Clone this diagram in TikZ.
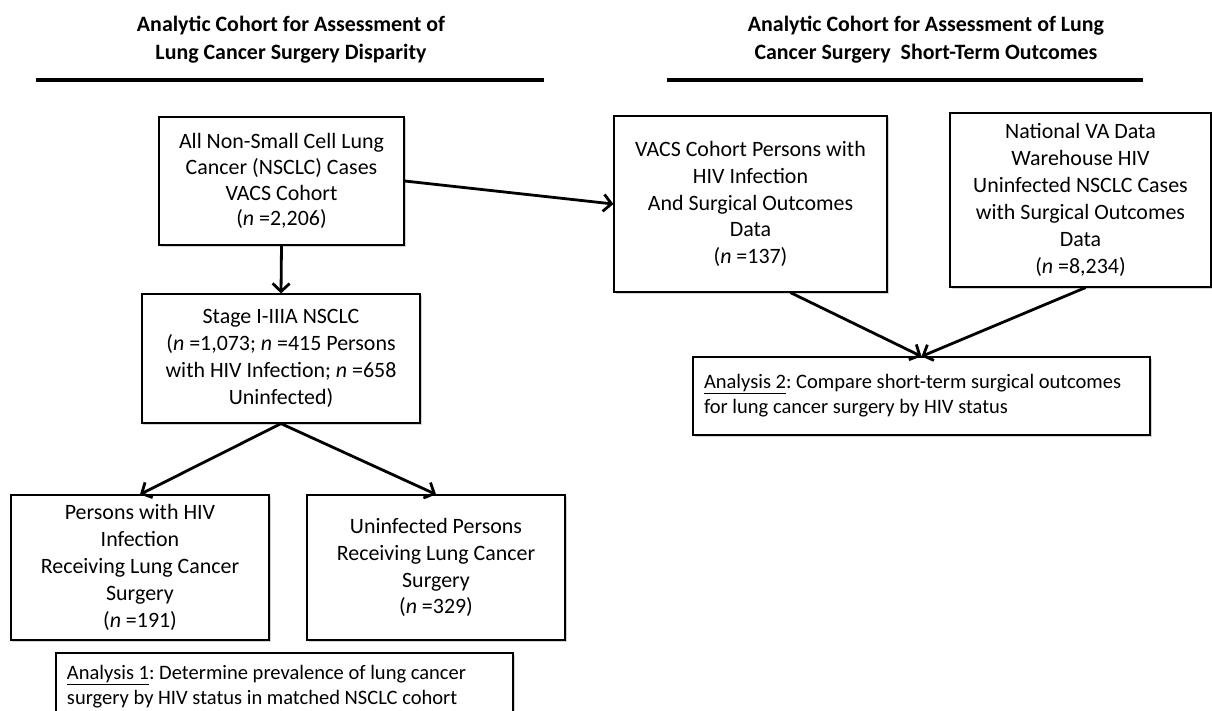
\documentclass[tikz,border=0pt]{standalone}
\usepackage{fontspec}
\setmainfont{Carlito}
\frenchspacing
\usetikzlibrary{arrows.meta,shadows}

\tikzset{
  box/.style={draw, line width=1.2bp, fill=white, align=center, inner sep=0pt,
    font=\fontsize{22}{27}\selectfont,
    drop shadow={shadow xshift=1.5bp, shadow yshift=-1.5bp, opacity=0.35}},
  note/.style={box, align=flush left, inner xsep=11bp, text width=435bp,
    font=\fontsize{20.6}{25}\selectfont},
  flow/.style={line width=2.8bp, -{Straight Barb[length=8bp,width=17bp]}},
  heading/.style={font=\bfseries\fontsize{22}{28}\selectfont, align=center},
  rule/.style={line width=3.6bp}
}

\begin{document}
\begin{tikzpicture}[x=1bp, y=-1bp]
  \clip (0,0) rectangle (1212,711);
  % headings
  \node[heading] (hleft) at (291,40) {Analytic Cohort for Assessment of\\Lung Cancer Surgery Disparity};
  \node[heading] (hright) at (926,40) {Analytic Cohort for Assessment of Lung\\Cancer Surgery~ Short-Term Outcomes};
  \draw[rule] (36,80) -- (544,80);
  \draw[rule] (667,80) -- (1143,80);

  % disparity side
  \node[box, minimum width=245bp, minimum height=128bp, font=\fontsize{22}{26}\selectfont] (cohort) at (281.5,181)
    {All Non-Small Cell Lung\\Cancer (NSCLC) Cases\\VACS Cohort\\(\textit{n} =2,206)};
  \node[box, minimum width=278bp, minimum height=129bp] (stage) at (281,358.5)
    {Stage I-IIIA NSCLC\\(\textit{n} =1,073; \textit{n} =415 Persons\\with HIV Infection; \textit{n} =658\\Uninfected)};
  \node[box, minimum width=258bp, minimum height=145bp] (hivsurg) at (140,567.5)
    {Persons with HIV\\Infection\\Receiving Lung Cancer\\Surgery\\(\textit{n} =191)};
  \node[box, minimum width=258bp, minimum height=145bp] (uninfsurg) at (436,567.5)
    {Uninfected Persons\\Receiving Lung Cancer\\Surgery\\(\textit{n} =329)};
  \node[note, minimum height=68bp] (ana1) at (284.5,687)
    {\underline{Analysis 1}: Determine prevalence of lung cancer\\surgery by HIV status in matched NSCLC cohort};

  % outcomes side
  \node[box, minimum width=273bp, minimum height=176bp] (vacs) at (750.5,204)
    {VACS Cohort Persons with\\HIV Infection\\And Surgical Outcomes\\Data\\(\textit{n} =137)};
  \node[box, minimum width=261bp, minimum height=174bp] (natva) at (1080.5,200)
    {National VA Data\\Warehouse HIV\\Uninfected NSCLC Cases\\with Surgical Outcomes\\Data\\(\textit{n} =8,234)};
  \node[note, minimum height=78bp] (ana2) at (921.5,396)
    {\underline{Analysis 2}: Compare short-term surgical outcomes\\for lung cancer surgery by HIV status};

  \draw[flow] (cohort.east) -- (vacs.west);
  \draw[flow] (cohort.south) -- (stage.north);
  \draw[flow] (stage.south) -- (hivsurg.north);
  \draw[flow] (stage.south) -- (uninfsurg.north);
  \draw[flow] ([xshift=40bp]vacs.south) -- (ana2.north);
  \draw[flow] ([xshift=5bp]natva.south) -- (ana2.north);
\end{tikzpicture}
\end{document}
